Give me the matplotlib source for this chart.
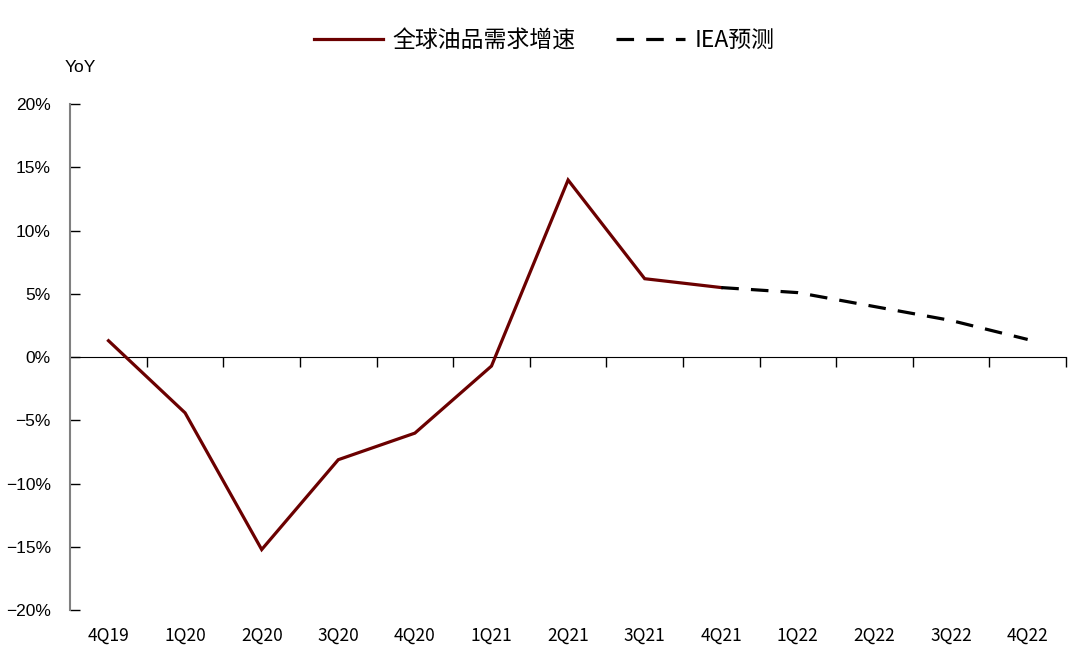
import matplotlib
matplotlib.use("Agg")
import matplotlib.pyplot as plt
from matplotlib.ticker import FuncFormatter, FixedLocator, NullFormatter

plt.rcParams['font.family'] = ['Liberation Sans', 'Noto Sans CJK SC', 'DejaVu Sans']

quarters = ['4Q19', '1Q20', '2Q20', '3Q20', '4Q20', '1Q21', '2Q21',
            '3Q21', '4Q21', '1Q22', '2Q22', '3Q22', '4Q22']
demand_growth = [1.3, -4.4, -15.2, -8.1, -6.0, -0.7, 14.0, 6.2, 5.5]
iea_forecast = [5.5, 5.1, 4.0, 2.9, 1.4]
forecast_start = 8

fig = plt.figure(figsize=(10.8, 6.67), dpi=100)
ax = fig.add_axes([0.065, 0.085, 0.922, 0.759])

x_hist = list(range(len(demand_growth)))
x_fc = list(range(forecast_start, forecast_start + len(iea_forecast)))

ax.plot(x_hist, demand_growth, color='#6b0000', lw=2.3,
        solid_joinstyle='miter', label='全球油品需求增速', zorder=3)
ax.plot(x_fc, iea_forecast, color='black', lw=2.3, dashes=(5.5, 3.8),
        label='IEA预测', zorder=3)

ax.set_xlim(-0.5, len(quarters) - 0.5)
ax.set_ylim(-20, 20)

# y axis
ax.set_yticks(range(-20, 21, 5))
ax.yaxis.set_major_formatter(FuncFormatter(lambda v, p: f'{v:.0f}%'.replace('-', '−')))
ax.tick_params(axis='y', direction='in', length=7, width=1, color='black',
               labelsize=12.5, pad=14)
ax.spines['left'].set_color('#808080')
ax.spines['left'].set_linewidth(1.5)
for s in ['top', 'right', 'bottom']:
    ax.spines[s].set_visible(False)

# category labels at the bottom
ax.set_xticks(range(len(quarters)))
ax.set_xticklabels(quarters, family=['Noto Sans CJK SC'])
ax.tick_params(axis='x', length=0, labelsize=12.5, pad=12)

# zero line with ticks between categories
sec = ax.secondary_xaxis(0.5)
sec.xaxis.set_major_locator(FixedLocator([i + 0.5 for i in range(len(quarters))]))
sec.xaxis.set_major_formatter(NullFormatter())
sec.tick_params(axis='x', direction='in', length=7, width=1, color='black')
sec.spines['bottom'].set_color('black')
sec.spines['bottom'].set_linewidth(1)

fig.text(0.06, 0.892, 'YoY', fontsize=12.5)

fig.legend(loc='upper center', bbox_to_anchor=(0.504, 0.987), ncol=2,
           frameon=False, handlelength=3.0, columnspacing=1.8, handletextpad=0.4,
           prop={'family': ['Noto Sans CJK SC'], 'size': 16.5})

fig.savefig('out.png', dpi=100, facecolor='white')
